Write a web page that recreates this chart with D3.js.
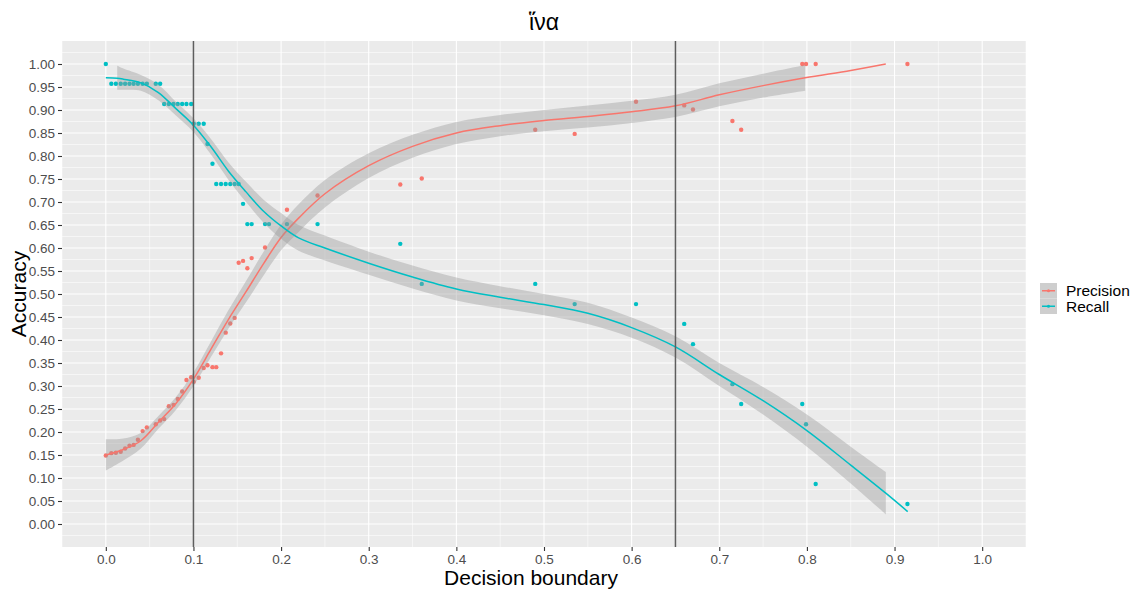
<!DOCTYPE html>
<html>
<head>
<meta charset="utf-8">
<script src="https://cdn.jsdelivr.net/npm/d3@7"></script>
<style>
  body { margin: 0; background: #ffffff; }
  text { font-family: "Liberation Sans", Arial, "DejaVu Sans", sans-serif; }
</style>
</head>
<body>
<svg id="chart" width="1137" height="590"></svg>
<script>
// ---- data -------------------------------------------------------------
const chartTitle = "ἵνα";
const xTitle = "Decision boundary";
const yTitle = "Accuracy";
const seriesNames = ["Precision", "Recall"];
const seriesColors = ["#F8766D", "#00BFC4"];

// observed thresholds with precision / recall at each one
const thresholds = [0.000, 0.0063, 0.0115, 0.017, 0.022, 0.027, 0.0317, 0.0366, 0.042, 0.0468,
  0.057, 0.062, 0.0666, 0.0719, 0.0772, 0.0821, 0.0871, 0.092, 0.0974, 0.1003,
  0.106, 0.1117, 0.116, 0.1217, 0.126, 0.1315, 0.1368, 0.142, 0.147, 0.1516,
  0.1566, 0.1615, 0.1664, 0.1817, 0.1862, 0.2067, 0.2416, 0.336, 0.3605, 0.49,
  0.535, 0.605, 0.66, 0.67, 0.715, 0.725, 0.7947, 0.799, 0.81, 0.9147];
const precision = [0.149, 0.154, 0.155, 0.157, 0.164, 0.170, 0.172, 0.183, 0.202, 0.210,
  0.217, 0.225, 0.228, 0.256, 0.259, 0.272, 0.288, 0.313, 0.319, 0.309,
  0.318, 0.339, 0.345, 0.341, 0.341, 0.371, 0.416, 0.436, 0.448, 0.568,
  0.572, 0.556, 0.578, 0.601, null, 0.683, 0.714, 0.738, 0.751, 0.857,
  0.848, 0.918, 0.910, 0.901, 0.876, 0.857, 1.000, 1.000, 1.000, 1.000];
const recall = [1.000, 0.957, 0.957, 0.957, 0.957, 0.957, 0.957, 0.957, 0.957, 0.957,
  0.957, 0.957, 0.913, 0.913, 0.913, 0.913, 0.913, 0.913, 0.913, 0.870,
  0.870, 0.870, 0.826, 0.783, 0.739, 0.739, 0.739, 0.739, 0.739, 0.739,
  0.696, 0.652, 0.652, 0.652, 0.652, 0.652, 0.652, 0.609, 0.522, 0.522,
  0.478, 0.478, 0.435, 0.391, 0.304, 0.261, 0.261, 0.217, 0.087, 0.0435];

// smoothed precision curve and its confidence band
const precisionFitX = [0, 0.02, 0.04, 0.06, 0.08, 0.10, 0.12, 0.14, 0.16, 0.18, 0.20, 0.22, 0.25,
  0.30, 0.35, 0.40, 0.45, 0.50, 0.55, 0.60, 0.65, 0.70, 0.75, 0.798, 0.85, 0.89];
const precisionFit = [0.150, 0.162, 0.181, 0.221, 0.262, 0.315, 0.380, 0.445, 0.505, 0.566, 0.623, 0.665, 0.718,
  0.779, 0.821, 0.850, 0.866, 0.877, 0.886, 0.896, 0.909, 0.933, 0.953, 0.970, 0.986, 1.000];
const precisionBandX = [0, 0.02, 0.04, 0.06, 0.08, 0.10, 0.12, 0.14, 0.16, 0.18, 0.20, 0.22, 0.25,
  0.30, 0.35, 0.40, 0.45, 0.50, 0.55, 0.60, 0.65, 0.70, 0.75, 0.798];
const precisionLow = [0.116, 0.138, 0.164, 0.207, 0.248, 0.300, 0.363, 0.425, 0.482, 0.540, 0.595, 0.635, 0.688,
  0.752, 0.796, 0.826, 0.843, 0.854, 0.862, 0.872, 0.885, 0.908, 0.927, 0.942];
const precisionHigh = [0.184, 0.186, 0.198, 0.235, 0.276, 0.330, 0.397, 0.465, 0.528, 0.592, 0.651, 0.695, 0.748,
  0.806, 0.846, 0.874, 0.889, 0.900, 0.910, 0.920, 0.933, 0.958, 0.979, 0.998];

// smoothed recall curve and its confidence band
const recallFitX = [0, 0.013, 0.02, 0.04, 0.06, 0.08, 0.10, 0.12, 0.14, 0.16, 0.18, 0.20, 0.22, 0.25,
  0.30, 0.35, 0.40, 0.45, 0.50, 0.55, 0.60, 0.65, 0.70, 0.75, 0.80, 0.85, 0.89, 0.915];
const recallFit = [0.970, 0.969, 0.967, 0.959, 0.938, 0.903, 0.867, 0.820, 0.767, 0.722, 0.680, 0.648, 0.622, 0.600,
  0.567, 0.537, 0.511, 0.493, 0.477, 0.458, 0.427, 0.385, 0.325, 0.268, 0.203, 0.128, 0.067, 0.027];
const recallBandX = [0.013, 0.02, 0.04, 0.06, 0.08, 0.10, 0.12, 0.14, 0.16, 0.18, 0.20, 0.22, 0.25,
  0.30, 0.35, 0.40, 0.45, 0.50, 0.55, 0.60, 0.65, 0.70, 0.75, 0.80, 0.85, 0.89];
const recallLow = [0.944, 0.944, 0.942, 0.921, 0.888, 0.852, 0.803, 0.748, 0.700, 0.655, 0.620, 0.594, 0.573,
  0.542, 0.512, 0.486, 0.469, 0.454, 0.435, 0.405, 0.362, 0.300, 0.238, 0.168, 0.088, 0.021];
const recallHigh = [0.996, 0.990, 0.976, 0.955, 0.918, 0.882, 0.837, 0.786, 0.744, 0.705, 0.676, 0.650, 0.627,
  0.592, 0.562, 0.536, 0.517, 0.500, 0.481, 0.449, 0.408, 0.350, 0.298, 0.238, 0.168, 0.113];

const boundaries = [0.1, 0.65];
const xTickValues = [0, 0.1, 0.2, 0.3, 0.4, 0.5, 0.6, 0.7, 0.8, 0.9, 1.0];
const xTickLabels = ["0.0", "0.1", "0.2", "0.3", "0.4", "0.5", "0.6", "0.7", "0.8", "0.9", "1.0"];
const yTickValues = [0, 0.05, 0.1, 0.15, 0.2, 0.25, 0.3, 0.35, 0.4, 0.45, 0.5, 0.55, 0.6, 0.65, 0.7,
  0.75, 0.8, 0.85, 0.9, 0.95, 1.0];
const yTickLabels = ["0.00", "0.05", "0.10", "0.15", "0.20", "0.25", "0.30", "0.35", "0.40", "0.45", "0.50",
  "0.55", "0.60", "0.65", "0.70", "0.75", "0.80", "0.85", "0.90", "0.95", "1.00"];

// ---- layout -----------------------------------------------------------
const svg = d3.select("#chart");
const panel = { left: 62, right: 1026, top: 41, bottom: 547 };

const x = d3.scaleLinear().domain([-0.05, 1.05]).range([panel.left, panel.right]);
const y = d3.scaleLinear().domain([-0.05, 1.05]).range([panel.bottom, panel.top]);

// panel background
svg.append("rect")
  .attr("x", panel.left).attr("y", panel.top)
  .attr("width", panel.right - panel.left).attr("height", panel.bottom - panel.top)
  .attr("fill", "#EBEBEB");

// grid: minor lines halfway between major ticks
const xMinor = d3.range(-0.05, 1.06, 0.1).map(v => +v.toFixed(3)).filter(v => v >= -0.05 && v <= 1.05);
const yMinor = d3.range(-0.025, 1.05, 0.05).map(v => +v.toFixed(4));
const grid = svg.append("g");
grid.selectAll(".xmin").data(xMinor).join("line")
  .attr("x1", d => x(d)).attr("x2", d => x(d)).attr("y1", panel.top).attr("y2", panel.bottom)
  .attr("stroke", "#ffffff").attr("stroke-width", 0.55);
grid.selectAll(".ymin").data(yMinor).join("line")
  .attr("y1", d => y(d)).attr("y2", d => y(d)).attr("x1", panel.left).attr("x2", panel.right)
  .attr("stroke", "#ffffff").attr("stroke-width", 0.55);
grid.selectAll(".xmaj").data(xTickValues).join("line")
  .attr("x1", d => x(d)).attr("x2", d => x(d)).attr("y1", panel.top).attr("y2", panel.bottom)
  .attr("stroke", "#ffffff").attr("stroke-width", 1.1);
grid.selectAll(".ymaj").data(yTickValues).join("line")
  .attr("y1", d => y(d)).attr("y2", d => y(d)).attr("x1", panel.left).attr("x2", panel.right)
  .attr("stroke", "#ffffff").attr("stroke-width", 1.1);

// observed points
const plot = svg.append("g");
const seriesValues = [precision, recall];
seriesValues.forEach((vals, i) => {
  const pts = thresholds.map((t, j) => ({ t, v: vals[j] })).filter(d => d.v !== null);
  plot.append("g").selectAll("circle").data(pts).join("circle")
    .attr("cx", d => x(d.t)).attr("cy", d => y(d.v)).attr("r", 2.2)
    .attr("fill", seriesColors[i]);
});

// smoothed curves with confidence bands
const band = d3.area().x(d => x(d[0])).y0(d => y(d[1])).y1(d => y(d[2]))
  .curve(d3.curveCatmullRom.alpha(0.5));
const fitLine = d3.line().x(d => x(d[0])).y(d => y(d[1]))
  .curve(d3.curveCatmullRom.alpha(0.5));

const smooths = [
  { bandX: precisionBandX, low: precisionLow, high: precisionHigh, fitX: precisionFitX, fit: precisionFit },
  { bandX: recallBandX, low: recallLow, high: recallHigh, fitX: recallFitX, fit: recallFit }
];
smooths.forEach((s, i) => {
  plot.append("path")
    .datum(s.bandX.map((t, j) => [t, s.low[j], s.high[j]]))
    .attr("d", band).attr("fill", "#999999").attr("fill-opacity", 0.4);
  plot.append("path")
    .datum(s.fitX.map((t, j) => [t, s.fit[j]]))
    .attr("d", fitLine).attr("fill", "none")
    .attr("stroke", seriesColors[i]).attr("stroke-width", 1.5);
});

// decision boundaries
plot.selectAll(".vline").data(boundaries).join("line")
  .attr("x1", d => x(d)).attr("x2", d => x(d)).attr("y1", panel.top).attr("y2", panel.bottom)
  .attr("stroke", "#5E5E5E").attr("stroke-width", 1.5);

// axes
const xAxis = d3.axisBottom(x).tickValues(xTickValues)
  .tickFormat((d, i) => xTickLabels[i]).tickSize(4).tickPadding(3);
const yAxis = d3.axisLeft(y).tickValues(yTickValues)
  .tickFormat((d, i) => yTickLabels[i]).tickSize(4).tickPadding(3);

const gx = svg.append("g").attr("transform", `translate(0,${panel.bottom})`).call(xAxis);
const gy = svg.append("g").attr("transform", `translate(${panel.left},0)`).call(yAxis);
[gx, gy].forEach(g => {
  g.select(".domain").remove();
  g.selectAll(".tick line").attr("stroke", "#333333").attr("stroke-width", 1.1);
  g.selectAll(".tick text").attr("fill", "#4D4D4D").style("font-size", "13.5px");
});

// titles
svg.append("text")
  .attr("x", 531).attr("y", 585)
  .attr("text-anchor", "middle").style("font-size", "21px").attr("fill", "#000")
  .text(xTitle);
svg.append("text")
  .attr("transform", `translate(26,${(panel.top + panel.bottom) / 2}) rotate(-90)`)
  .attr("text-anchor", "middle").style("font-size", "21px").attr("fill", "#000")
  .text(yTitle);
svg.append("text")
  .attr("x", (panel.left + panel.right) / 2).attr("y", 30)
  .attr("text-anchor", "middle").style("font-size", "23px").attr("fill", "#000")
  .text(chartTitle);

// legend
const legend = svg.append("g").attr("transform", "translate(1040,283)");
const keySize = 15.5;
seriesNames.forEach((name, i) => {
  const k = legend.append("g").attr("transform", `translate(0,${i * keySize})`);
  k.append("rect").attr("width", 17).attr("height", keySize).attr("fill", "#F2F2F2");
  k.append("rect").attr("width", 17).attr("height", keySize).attr("fill", "#999999").attr("fill-opacity", 0.4);
  k.append("line").attr("x1", 2).attr("x2", 15).attr("y1", keySize / 2).attr("y2", keySize / 2)
    .attr("stroke", seriesColors[i]).attr("stroke-width", 1.5);
  k.append("circle").attr("cx", 8.5).attr("cy", keySize / 2).attr("r", 1.5).attr("fill", seriesColors[i]);
  k.append("text").attr("x", 26).attr("y", keySize / 2).attr("dy", "0.35em")
    .style("font-size", "15.5px").attr("fill", "#000").text(name);
});
</script>
</body>
</html>
